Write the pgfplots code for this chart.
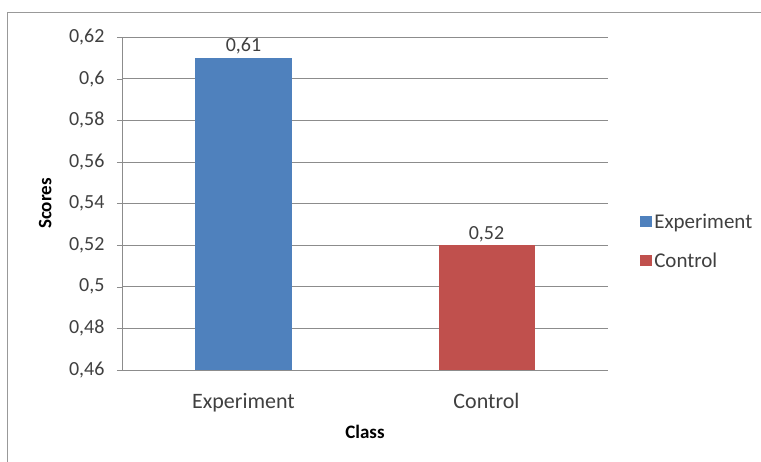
\documentclass[border=0pt]{standalone}
\usepackage{pgfplots}
\pgfplotsset{compat=1.18}
\usepackage{fontspec}
\setmainfont{Carlito}
\definecolor{cblue}{HTML}{4F81BD}
\definecolor{cred}{HTML}{C0504D}
\definecolor{gridc}{HTML}{8C8C8C}
\definecolor{txt}{HTML}{404040}
\begin{document}
\begin{tikzpicture}
\useasboundingbox (0pt,0pt) rectangle (761pt,462pt);
\fill[white] (0pt,0pt) rectangle (761pt,462pt);
\draw[gray!80, line width=1pt] (7pt,-5pt) -- (7pt,449pt) -- (770pt,449pt);
\begin{axis}[
    at={(122pt,92pt)}, anchor=south west,
    scale only axis, width=486pt, height=333pt,
    ybar, bar width=96pt, bar shift=0pt,
    xmin=-0.5, xmax=1.5, ymin=0.46, ymax=0.62,
    xtick={0,1}, xticklabels={Experiment, Control},
    ytick={0.46,0.48,...,0.625},
    axis x line=bottom, axis y line=left,
    axis line style={gridc, -},
    ymajorgrids, grid style={gridc, line width=0.6pt},
    major tick length=5pt, tick align=outside,
    xtick style={draw=none}, ytick style={gridc},
    /pgf/number format/assume math mode=true,
    /pgf/number format/use comma,
    /pgf/number format/fixed,
    /pgf/number format/precision=2,
    tick label style={text=txt},
    yticklabel style={font=\fontsize{20}{24}\selectfont, xshift=-9pt},
    xticklabel style={font=\fontsize{22}{26}\selectfont, yshift=-15pt},
    xlabel={\textbf{Class}}, ylabel={\textbf{Scores}},
    every axis x label/.style={at={(axis description cs:0.5,-0.186)}, anchor=center},
    every axis y label/.style={at={(axis description cs:-0.158,0.5)}, rotate=90, anchor=center},
    label style={font=\fontsize{19}{22}\selectfont, text=black},
    nodes near coords,
    nodes near coords style={font=\fontsize{20}{24}\selectfont, text=txt},
    legend style={at={(axis description cs:1.066,0.387)}, anchor=west, draw=none,
      fill=none, font=\fontsize{21}{25}\selectfont, text=txt, inner xsep=0pt,
      row sep=19pt, nodes={inner xsep=2pt}},
    legend cell align=left,
    legend image code/.code={\fill[#1] (0pt,-5.5pt) rectangle (12pt,5.5pt);},
]
\addplot[fill=cblue, draw=none] coordinates {(0,0.61)};
\addplot[fill=cred, draw=none] coordinates {(1,0.52)};
\legend{Experiment, Control}
\end{axis}
\end{tikzpicture}
\end{document}
